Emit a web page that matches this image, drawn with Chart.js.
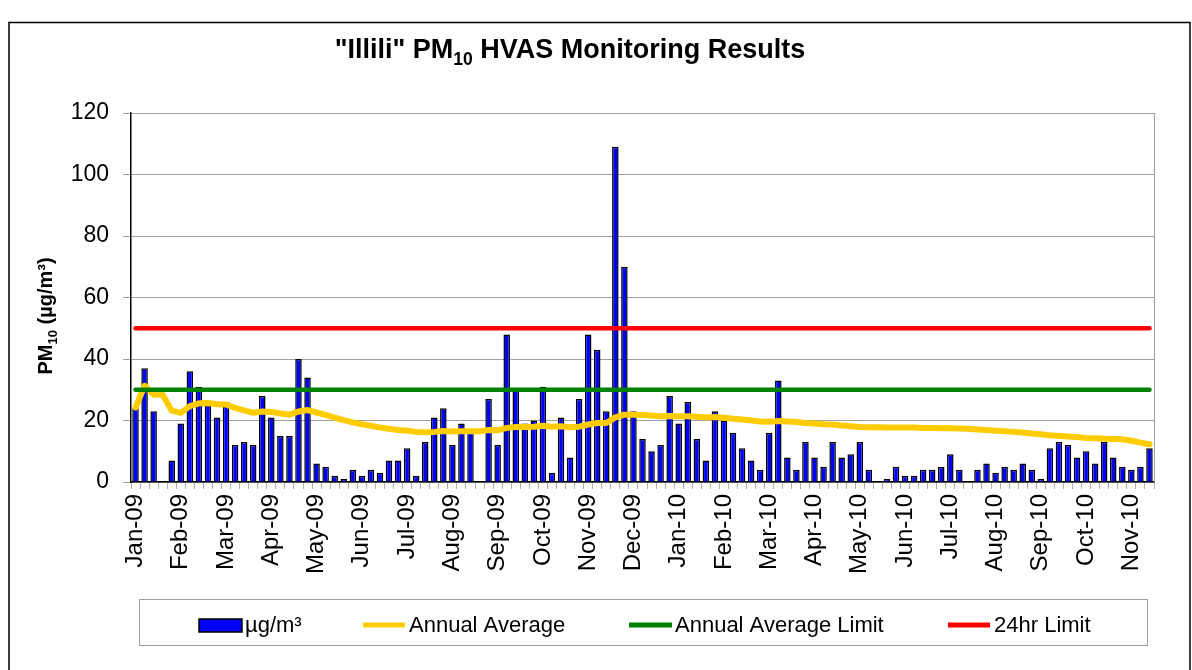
<!DOCTYPE html>
<html>
<head>
<meta charset="utf-8">
<script src="https://cdn.jsdelivr.net/npm/chart.js@4.4.1/dist/chart.umd.min.js"></script>
<style>
html,body{margin:0;padding:0;background:#fff;}
#wrap{position:relative;width:1192px;height:670px;}
</style>
</head>
<body>
<div id="wrap"><canvas id="c" width="1192" height="670"></canvas></div>
<script>
// ---- data ----
const tickLabels = ['Jan-09','Feb-09','Mar-09','Apr-09','May-09','Jun-09','Jul-09','Aug-09','Sep-09','Oct-09','Nov-09','Dec-09',
  'Jan-10','Feb-10','Mar-10','Apr-10','May-10','Jun-10','Jul-10','Aug-10','Sep-10','Oct-10','Nov-10'];
const samplesPerLabel = 5;

const pm10 = [
  24,37,23,null,7,19,36,31,25,21,
  26,12,13,12,28,21,15,15,40,34,
  6,5,2,1,4,2,4,3,7,7,
  11,2,13,21,24,12,19,17,null,27,
  12,48,30,19,20,31,3,21,8,27,
  48,43,23,109,70,23,14,10,12,28,
  19,26,14,7,23,20,16,11,7,4,
  16,33,8,4,13,8,5,13,8,9,
  13,4,null,1,5,2,2,4,4,5,
  9,4,null,4,6,3,5,4,6,4,
  1,11,13,12,8,10,6,13,8,5,
  4,5,11
];

const annualAverage = [
  24.2,31.3,28.4,28.4,23.2,22.5,24.7,25.6,25.7,25.3,
  25.2,24.1,23.3,22.5,22.9,22.8,22.3,21.9,22.9,23.4,
  22.6,21.8,20.9,20.1,19.4,18.8,18.3,17.7,17.3,16.9,
  16.7,16.3,16.2,16.3,16.6,16.4,16.5,16.5,16.5,16.9,
  16.8,17.6,17.9,17.9,18.0,18.3,18.0,18.1,17.8,18.0,
  18.7,19.2,19.2,21.0,21.9,21.9,21.8,21.6,21.4,21.5,
  21.4,21.4,21.2,21.0,21.1,20.9,20.6,20.3,20.0,19.7,
  19.6,19.8,19.7,19.5,19.2,19.0,18.8,18.7,18.4,18.1,
  17.9,17.8,17.8,17.7,17.7,17.7,17.7,17.6,17.6,17.5,
  17.5,17.4,17.3,17.1,16.9,16.7,16.5,16.3,16.1,15.8,
  15.5,15.2,15.0,14.8,14.6,14.3,14.2,14.1,14.0,13.9,
  13.4,12.8,12.3
];

const annualAverageLimit = 30;
const dailyLimit = 50;

const seriesNames = ['\u00b5g/m\u00b3','Annual Average','Annual Average Limit','24hr Limit'];

// ---- build chart structures ----
const categories = pm10.map((_, i) => (i % samplesPerLabel === 0) ? (tickLabels[i / samplesPerLabel] || '') : '');
const annualLimitSeries = categories.map(() => annualAverageLimit);
const dailyLimitSeries = categories.map(() => dailyLimit);

const FONT = "'Liberation Sans', Arial, Helvetica, sans-serif";

function drawRich(ctx, parts, cx, y, size, bold) {
  const f = (s) => (bold ? 'bold ' : '') + s + 'px ' + FONT;
  let total = 0;
  parts.forEach(p => {
    ctx.font = f(p.sub ? size * 0.65 : size);
    p.w = ctx.measureText(p.t).width;
    total += p.w;
  });
  let x = cx - total / 2;
  ctx.textAlign = 'left';
  ctx.textBaseline = 'alphabetic';
  parts.forEach(p => {
    ctx.font = f(p.sub ? size * 0.65 : size);
    ctx.fillText(p.t, x, p.sub ? y + size * 0.25 : y);
    x += p.w;
  });
}

const decor = {
  id: 'decor',
  beforeDraw(chart) {
    const ctx = chart.ctx;
    ctx.save();
    ctx.fillStyle = '#fff';
    ctx.fillRect(0, 0, chart.width, chart.height);
    ctx.restore();
  },
  afterDraw(chart) {
    const ctx = chart.ctx;
    const a = chart.chartArea;
    ctx.save();
    // outer frame
    ctx.strokeStyle = '#000';
    ctx.lineWidth = 1.5;
    ctx.strokeRect(9, 22.5, 1181, 680);
    // plot area right edge
    ctx.strokeStyle = '#a0a0a0';
    ctx.lineWidth = 1;
    ctx.beginPath();
    ctx.moveTo(Math.round(a.right) + 0.5, a.top);
    ctx.lineTo(Math.round(a.right) + 0.5, a.bottom);
    ctx.stroke();

    // title
    ctx.fillStyle = '#000';
    drawRich(ctx, [{t: '"Illili" PM'}, {t: '10', sub: true}, {t: ' HVAS Monitoring Results'}], 570, 58, 27, true);

    // y axis title
    ctx.save();
    ctx.translate(52, 316);
    ctx.rotate(-Math.PI / 2);
    drawRich(ctx, [{t: 'PM'}, {t: '10', sub: true}, {t: ' (\u00b5g/m\u00b3)'}], 0, 0, 20, true);
    ctx.restore();

    // legend
    ctx.strokeStyle = '#a0a0a0';
    ctx.lineWidth = 1;
    ctx.strokeRect(139.5, 599.5, 1008, 46);
    const ly = 625;
    const ds = chart.data.datasets;
    ctx.font = '22px ' + FONT;
    ctx.textBaseline = 'middle';
    ctx.textAlign = 'left';
    // bar item
    ctx.fillStyle = ds[0].backgroundColor;
    ctx.fillRect(199, ly - 6, 43, 13);
    ctx.strokeStyle = '#000';
    ctx.lineWidth = 1.5;
    ctx.strokeRect(199, ly - 6, 43, 13);
    ctx.fillStyle = '#000';
    ctx.fillText(ds[0].label, 245, ly + 1);
    const lineItems = [[1, 363, 405, 409], [2, 629, 672, 675], [3, 948, 990, 994]];
    lineItems.forEach(([k, x0, x1, tx]) => {
      ctx.strokeStyle = ds[k].borderColor;
      ctx.lineWidth = 5;
      ctx.lineCap = 'butt';
      ctx.beginPath();
      ctx.moveTo(x0, ly);
      ctx.lineTo(x1, ly);
      ctx.stroke();
      ctx.fillStyle = '#000';
      ctx.fillText(ds[k].label, tx, ly + 1);
    });
    ctx.restore();
  }
};

new Chart(document.getElementById('c'), {
  type: 'bar',
  data: {
    labels: categories,
    datasets: [
      {
        type: 'bar', label: seriesNames[0], data: pm10,
        backgroundColor: '#0000FF', borderColor: '#000', borderWidth: 1.5,
        barPercentage: 0.72, categoryPercentage: 1.0, order: 3
      },
      {
        type: 'line', label: seriesNames[1], data: annualAverage,
        borderColor: '#FFCC00', backgroundColor: '#FFCC00', borderWidth: 6,
        pointRadius: 0, tension: 0, borderJoinStyle: 'round', borderCapStyle: 'round', order: 2
      },
      {
        type: 'line', label: seriesNames[2], data: annualLimitSeries,
        borderColor: '#008000', backgroundColor: '#008000', borderWidth: 4.5,
        pointRadius: 0, borderCapStyle: 'round', order: 1
      },
      {
        type: 'line', label: seriesNames[3], data: dailyLimitSeries,
        borderColor: '#FF0000', backgroundColor: '#FF0000', borderWidth: 4.5,
        pointRadius: 0, borderCapStyle: 'round', order: 0
      }
    ]
  },
  options: {
    responsive: false,
    animation: false,
    devicePixelRatio: 1,
    layout: { padding: { top: 113, right: 38, bottom: 0, left: 0 } },
    plugins: { legend: { display: false }, title: { display: false }, tooltip: { enabled: false } },
    scales: {
      x: {
        offset: true,
        grid: { offset: true, drawOnChartArea: false, drawTicks: true, tickLength: 7, color: '#b0b0b0' },
        border: { display: true, color: '#000', width: 1.5 },
        ticks: {
          autoSkip: false, maxRotation: 90, minRotation: 90, padding: 5,
          color: '#000', font: { family: FONT, size: 24 }
        },
        afterFit: (s) => { s.height = 188; }
      },
      y: {
        min: 0, max: 120,
        ticks: { stepSize: 20, padding: 14, color: '#000', font: { family: FONT, size: 23 } },
        grid: { color: '#a0a0a0', lineWidth: 1, tickLength: 8 },
        border: { display: true, color: '#000', width: 1.5 },
        afterFit: (s) => { s.width = 131; }
      }
    }
  },
  plugins: [decor]
});
</script>
</body>
</html>
